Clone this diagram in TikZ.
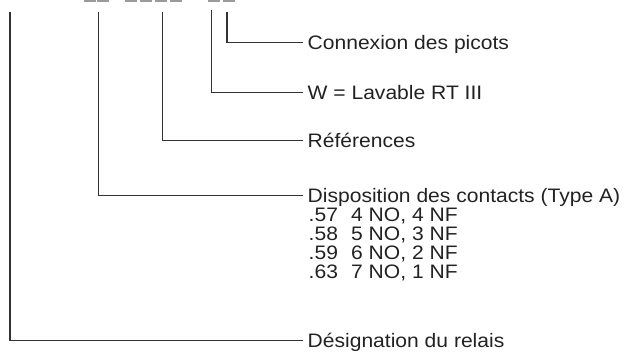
\documentclass[tikz,border=0pt]{standalone}
\usepackage{fontspec}
\setmainfont{Liberation Sans}[FakeStretch=1.08]
\definecolor{ink}{HTML}{222222}
\definecolor{wire}{HTML}{333333}
\definecolor{stub}{HTML}{9A9A9A}
\begin{document}
\begin{tikzpicture}[x=1pt,y=-1pt,
  lab/.style={anchor=west,inner sep=0pt,text height=14pt,text depth=0pt,
              font=\fontsize{19.5}{23}\selectfont,text=ink},
  lead/.style={draw=wire,line width=1.3pt},
  code/.style={fill=stub}]
\useasboundingbox (0,0) rectangle (624,354);

% code placeholders along the top edge
\foreach \a/\b in {84/95.5,97.3/109.3,125/136.5,140/151.7,155/166.7,170/181.7,208.3/220,223.3/235}
  \fill[code] (\a,0) rectangle (\b,2.2);

% tops of the leaders
\coordinate (t1) at (227,12.3);
\coordinate (t2) at (211.3,10);
\coordinate (t3) at (162.5,12.3);
\coordinate (t4) at (98.2,12.3);
\coordinate (t5) at (10,12.3);

% labels
\node[lab] (conn) at (307.5,42.7) {Connexion des picots};
\node[lab] (lav)  at (307.5,92.3) {W = Lavable RT III};
\node[lab] (ref)  at (307.5,140.3) {Références};
\node[lab] (disp) at (307.5,195.5) {Disposition des contacts (Type A)};
\node[lab] (c57)  at (308.5,214.5) {.57};
\node[lab] (c58)  at (308.5,233.5) {.58};
\node[lab] (c59)  at (308.5,252.5) {.59};
\node[lab] (c63)  at (308.5,271.5) {.63};
\node[lab] (d57)  at (351,214.5) {4 NO, 4 NF};
\node[lab] (d58)  at (351,233.5) {5 NO, 3 NF};
\node[lab] (d59)  at (351,252.5) {6 NO, 2 NF};
\node[lab] (d63)  at (351,271.5) {7 NO, 1 NF};
\node[lab] (desg) at (307.5,340.5) {Désignation du relais};

% leaders
\draw[lead] (t1) |- ([xshift=-5pt]conn.west);
\draw[lead] (t2) |- ([xshift=-5pt]lav.west);
\draw[lead] (t3) |- ([xshift=-5pt]ref.west);
\draw[lead] (t4) |- ([xshift=-5pt]disp.west);
\draw[lead] (t5) |- ([xshift=-5pt]desg.west);
\end{tikzpicture}
\end{document}
